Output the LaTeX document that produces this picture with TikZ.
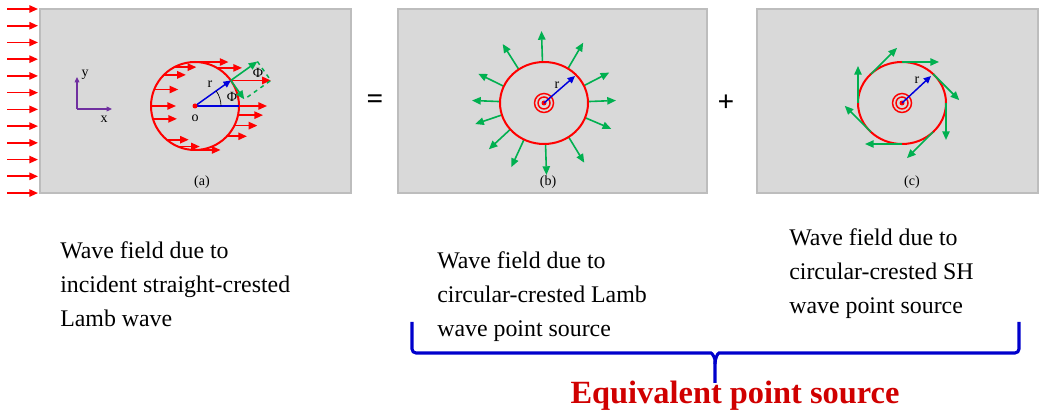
\documentclass[tikz,border=0pt]{standalone}
\usepackage{fontspec}
\setmainfont{Liberation Serif}
\usetikzlibrary{arrows.meta,calc}
\definecolor{panelgray}{HTML}{D9D9D9}
\definecolor{paneledge}{HTML}{BDBDBD}
\definecolor{wavered}{HTML}{FF0000}
\definecolor{compgreen}{HTML}{00B050}
\definecolor{radblue}{HTML}{0000DD}
\definecolor{axpurple}{HTML}{7030A0}
\definecolor{bracecol}{HTML}{0000CC}
\definecolor{titlered}{HTML}{D00000}

\begin{document}
\begin{tikzpicture}[
  x=0.75pt, y=0.75pt,
  panel/.style={draw=paneledge, line width=1pt, fill=panelgray},
  wavearrow/.style={draw=wavered, line width=1.2pt, -{Triangle[length=6.5pt,width=5.5pt]}},
  ringline/.style={draw=wavered, line width=1.5pt},
  comparrow/.style={draw=compgreen, line width=1.2pt, -{Triangle[length=6.5pt,width=5.5pt]}},
  radarrow/.style={draw=radblue, line width=1.1pt, -{Triangle[length=5.5pt,width=5pt]}},
  axisarrow/.style={draw=axpurple, line width=0.9pt, -{Triangle[length=4pt,width=3.5pt]}},
  caption/.style={font=\fontsize{17.9}{25.5}\selectfont, align=left, inner sep=0pt, anchor=north west},
  sublabel/.style={font=\fontsize{10.5}{12}\selectfont, inner sep=0pt},
  symb/.style={font=\fontsize{10.5}{12}\selectfont, inner sep=0pt},
  opsign/.style={font=\fontsize{22}{24}\selectfont\bfseries, inner sep=0pt},
]
\useasboundingbox (0,0) rectangle (1039,414);

% === PANELS ===
\draw[panel] (40,221) rectangle (351,405);
\draw[panel] (398,221) rectangle (707,405);
\draw[panel] (757,221) rectangle (1038,405);

\coordinate (o) at (195,308);
\coordinate (B) at (544,311);
\coordinate (C) at (902,311);

% --- (a) incident straight-crested wave ---
\foreach \k in {0,...,11}
  \draw[wavearrow] (7,{405-16.73*\k}) -- (38,{405-16.73*\k});

\coordinate (ax) at (77,305);
\draw[axisarrow] (ax) -- ++(0,32) node[sublabel, anchor=west, xshift=3pt, yshift=2pt, text=black] (ylab) {y};
\draw[axisarrow] (ax) -- ++(35,0);
\node[sublabel] (xlab) at (104,295) {x};

\draw[ringline] (o) circle[radius=44];
\foreach \ang/\len in {92/35,118/22,135/22,158/24,180/25,197/24,230/22,247/22,272/24,
                       60/25,0/28,-12/25,-26.5/23,-43.5/20}
  \draw[wavearrow] ($(o)+(\ang:44)$) -- ++(\len,0);

\coordinate (P) at ($(o)+(35.5:44)$);
\draw[wavearrow] (P) -- ++(40,0) coordinate (Ptip);
\draw[comparrow] (P) -- ++(35.5:32.6) coordinate (Prad);
\draw[comparrow] (P) -- ++(-54.5:23.2) coordinate (Ptan);
\draw[compgreen, line width=1.1pt, dashed] (Prad) -- (Ptip) -- (Ptan);

\draw[radblue, line width=1.1pt] (o) -- ($(o)+(44,0)$);
\draw[radarrow] (o) -- (P);
\draw[line width=0.5pt] ($(o)+(26,0)$) arc[start angle=0, end angle=35.5, radius=26];
\fill[wavered] (o) circle[radius=2.5];
\node[symb] (rlab) at ($(o)+(15,22)$) {r};
\node[symb] (philab) at ($(o)+(37,9)$) {Φ};
\node[symb] (olab) at ($(o)+(0,-12)$) {o};
\node[symb] (phigr) at ($(o)+(63,33)$) {Φ};
\node[sublabel] (lab_a) at (202,232) {(a)};

% --- (b) circular-crested Lamb wave source ---
\foreach \ang in {92,57,25,2,-21,-56,-88,-117,-140,-163,178,156,125}
  \draw[comparrow] ($(B)+(\ang:44 and 41)$) -- ($(B)+(\ang:72)$);
\draw[ringline] (B) ellipse[x radius=44, y radius=41];
\foreach \rr in {9.5,6}
  \draw[wavered, line width=1.1pt] (B) circle[radius=\rr];
\fill[wavered] (B) circle[radius=2.5];
\draw[radarrow] (B) -- ++(31,27);
\node[symb] (rlab_b) at ($(B)+(13,18)$) {r};
\node[sublabel] (lab_b) at (548,232) {(b)};

% --- (c) circular-crested SH wave source ---
\draw[ringline] (C) ellipse[x radius=44, y radius=41];
\foreach \ang in {90,45,0,-45,-90,-135,180,135}
  \draw[comparrow] ($(C)+(\ang:44 and 41)$) -- ++({\ang-90}:37);
\foreach \rr in {9.5,6}
  \draw[wavered, line width=1.1pt] (C) circle[radius=\rr];
\fill[wavered] (C) circle[radius=2.5];
\draw[radarrow] (C) -- ++(29,27);
\node[symb] (rlab_c) at ($(C)+(15,23)$) {r};
\node[sublabel] (lab_c) at (912,232) {(c)};

% === OPERATORS ===
\node[opsign] (eq) at (375,312) {=};
\node[opsign] (plus) at (726,311) {+};

% === CAPTIONS ===
\node[caption] (cap_a) at (60,173) {Wave field due to\\incident straight-crested\\Lamb wave};
\node[caption] (cap_b) at (437,163) {Wave field due to\\circular-crested Lamb\\wave point source};
\node[caption] (cap_c) at (789,186) {Wave field due to\\circular-crested SH\\wave point source};

% === BRACE ===
\node[font=\fontsize{24.3}{28}\selectfont\bfseries, text=titlered, anchor=base, inner sep=0pt]
  (eqsrc) at (735,10) {Equivalent point source};
\coordinate (brl) at (412,92);
\coordinate (brr) at (1019,92);
\coordinate (brm) at (715,31);
\draw[bracecol, line width=2.3pt, rounded corners=3pt]
  (brl) -- (412,61) -- (707,61) to[out=0, in=90] (715,50) -- (brm);
\draw[bracecol, line width=2.3pt, rounded corners=3pt]
  (brr) -- (1019,61) -- (723,61) to[out=180, in=90] (715,50);

\end{tikzpicture}
\end{document}
